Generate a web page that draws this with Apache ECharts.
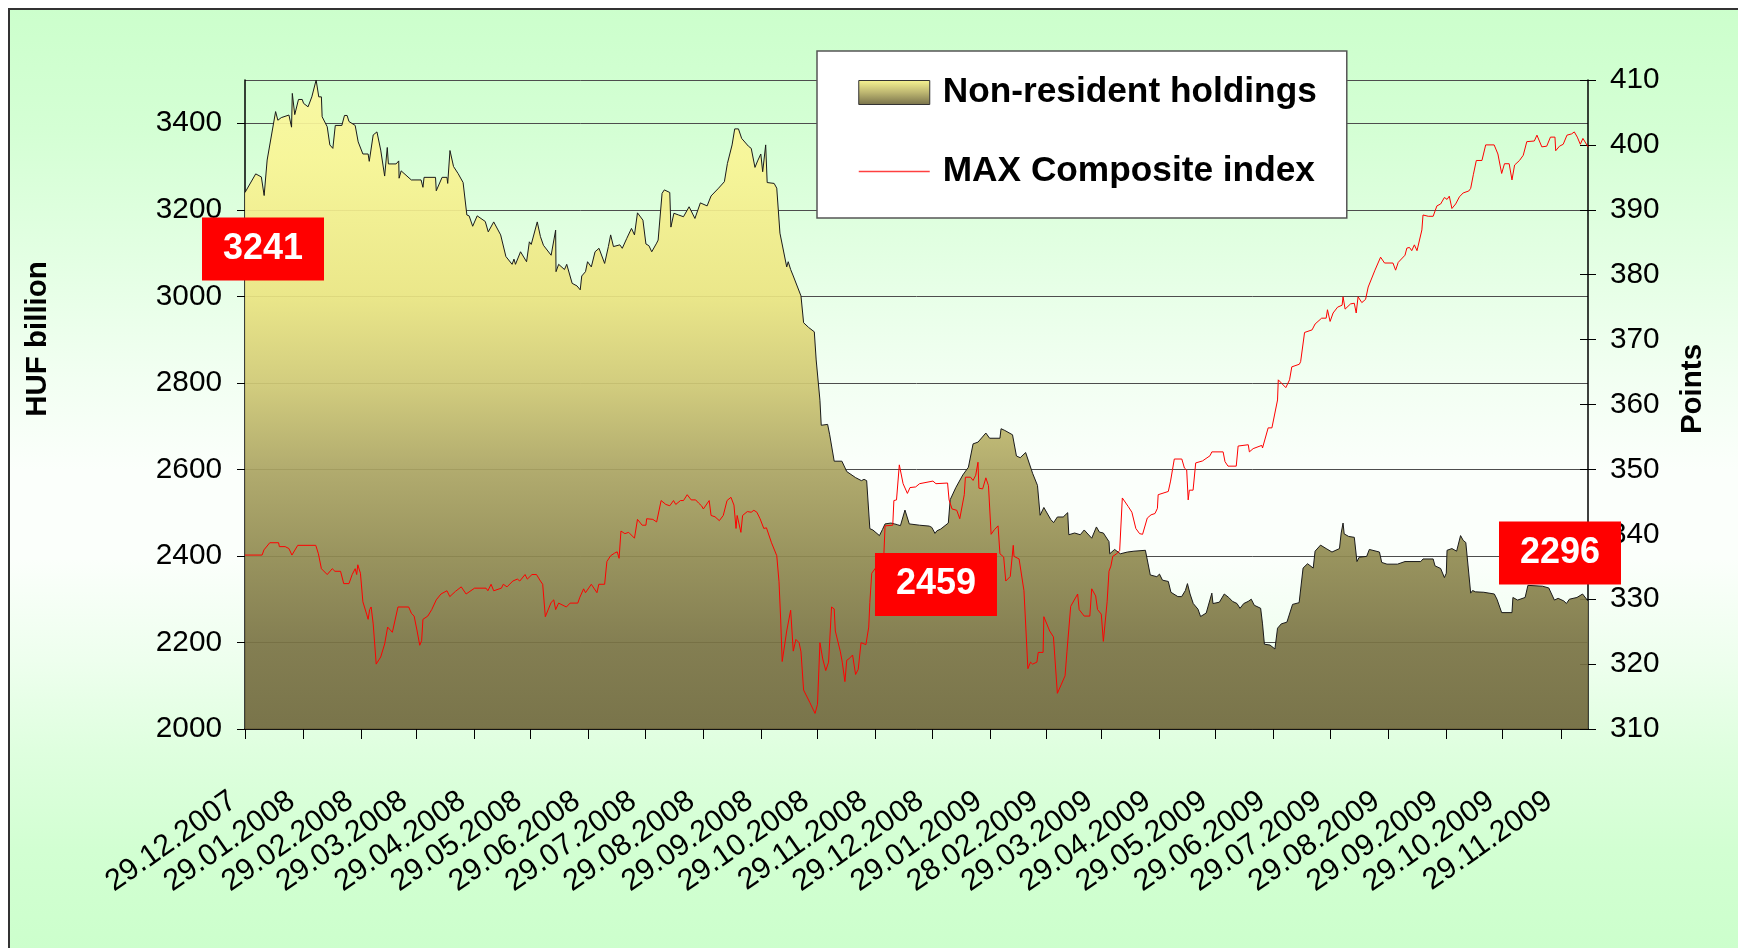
<!DOCTYPE html>
<html>
<head>
<meta charset="utf-8">
<script src="https://cdn.jsdelivr.net/npm/echarts@6/dist/echarts.min.js"></script>
<style>
  html, body { margin: 0; padding: 0; background: #fff; }
  #chart { width: 1738px; height: 948px; }
</style>
</head>
<body>
<div id="chart"></div>
<script>
// x axis counts calendar days from 29.12.2007
const tickDays = [0, 31, 62, 91, 122, 152, 183, 213, 244, 275, 305, 336, 366, 397, 427, 456, 487, 517, 548, 578, 609, 640, 670, 701]
const tickLabels = ['29.12.2007', '29.01.2008', '29.02.2008', '29.03.2008', '29.04.2008', '29.05.2008', '29.06.2008',
  '29.07.2008', '29.08.2008', '29.09.2008', '29.10.2008', '29.11.2008', '29.12.2008', '29.01.2009', '28.02.2009',
  '29.03.2009', '29.04.2009', '29.05.2009', '29.06.2009', '29.07.2009', '29.08.2009', '29.09.2009', '29.10.2009', '29.11.2009']
const lastDay = 715.5

// [day, HUF billion]
const holdings = [
  [0, 3240], [5.7, 3283], [8.7, 3276], [10.2, 3233], [11.8, 3315], [16.3, 3427], [17.5, 3407], [19.3, 3413], [23.4, 3419],
  [24.8, 3391], [25.2, 3469], [26.5, 3420], [28.5, 3455], [30.5, 3455], [31.2, 3446], [33.6, 3438], [35.6, 3461], [37.9, 3500],
  [39.3, 3461], [40.7, 3461], [41.1, 3415], [43.8, 3392], [45.2, 3350], [46.8, 3342], [48.1, 3395], [51.6, 3395], [53, 3418],
  [54.4, 3418], [55.4, 3404], [58.7, 3395], [60.3, 3357], [62.8, 3329], [65.6, 3329], [66.2, 3312], [68.3, 3373], [70.3, 3380],
  [72.3, 3338], [74.4, 3278], [75.8, 3344], [76.4, 3306], [80.5, 3306], [81.9, 3313], [82.1, 3273], [83.2, 3290], [88.6, 3269],
  [93.8, 3269], [94.8, 3252], [95.4, 3275], [101.5, 3275], [101.9, 3244], [105, 3275], [107.6, 3275], [108, 3261], [109.2, 3337],
  [111.1, 3300], [113.5, 3284], [116.2, 3263], [118.2, 3188], [119.4, 3186], [121.3, 3162], [122.3, 3162], [123.7, 3186],
  [128, 3173], [129.6, 3149], [132.5, 3172], [136.2, 3142], [139, 3092], [142.3, 3074], [143.3, 3086], [144.1, 3074],
  [146.8, 3103], [150, 3080], [151.5, 3126], [152.5, 3120], [155.7, 3172], [157.4, 3138], [159, 3118], [163.1, 3095],
  [165.5, 3153], [165.7, 3057], [167.1, 3074], [170.2, 3062], [171.4, 3074], [174.3, 3030], [176.9, 3024], [178.6, 3015],
  [179.4, 3047], [181.4, 3057], [182.5, 3080], [184.5, 3068], [186.5, 3103], [188.6, 3111], [191.6, 3076], [193.6, 3115],
  [194.8, 3142], [196.3, 3115], [199.7, 3119], [201, 3111], [203.4, 3134], [205.9, 3157], [207.5, 3142], [209.1, 3193],
  [212, 3176], [213.6, 3121], [215.2, 3117], [216.7, 3103], [219.3, 3123], [220.1, 3130], [222.2, 3238], [223.4, 3246],
  [226.3, 3240], [226.9, 3160], [228.5, 3192], [231, 3188], [233.6, 3184], [236.6, 3207], [239.7, 3180], [242.6, 3216],
  [246.2, 3209], [248.3, 3232], [252.3, 3250], [255.4, 3265], [257, 3307], [259.5, 3350], [260.9, 3387], [262.9, 3387],
  [264.6, 3365], [268.2, 3347], [269.7, 3342], [271.7, 3298], [273.1, 3313], [274.8, 3329], [275.8, 3288], [277.4, 3350],
  [278.2, 3263], [281.9, 3261], [283.3, 3250], [285, 3146], [288.6, 3068], [289.4, 3080], [290.7, 3062], [292.1, 3047],
  [296.2, 3001], [297.6, 2939], [300.3, 2928], [303.3, 2918], [304.3, 2853], [306.3, 2760], [307, 2702], [310.4, 2704],
  [311.5, 2680], [313.9, 2619], [318, 2619], [320.6, 2595], [325.3, 2581], [328.4, 2574], [329.8, 2577], [331.2, 2574],
  [332.9, 2463], [334.5, 2460], [335.5, 2463], [338, 2447], [339.6, 2461], [341, 2474], [344.1, 2476], [346.1, 2474],
  [347.7, 2472], [349.2, 2470], [351.6, 2506], [353.9, 2474], [359.4, 2471], [364.5, 2469], [365.9, 2466], [367.6, 2452],
  [368.6, 2458], [370.6, 2462], [374.7, 2476], [375.7, 2530], [378.7, 2558], [382.4, 2587], [385.4, 2605], [387.9, 2659],
  [390.5, 2663], [394.7, 2684], [396.7, 2672], [402.2, 2672], [402.8, 2694], [404.8, 2690], [408.9, 2680], [411, 2631],
  [413, 2627], [415.9, 2639], [419.6, 2591], [422.2, 2563], [423.6, 2494], [425.6, 2512], [429.3, 2484], [430.8, 2477],
  [432.8, 2490], [435.9, 2490], [438.3, 2500], [438.9, 2449], [442, 2453], [445, 2449], [447.1, 2460], [451.1, 2441],
  [453.6, 2467], [455.2, 2455], [457.3, 2453], [460.3, 2433], [460.7, 2405], [463.3, 2415], [466.4, 2405], [470.1, 2409],
  [473.6, 2411], [479.7, 2413], [480.7, 2409], [482.3, 2356], [485.8, 2352], [487.2, 2358], [488.8, 2344], [491.9, 2341],
  [493.3, 2316], [497, 2306], [499, 2306], [501, 2320], [502.1, 2336], [503.5, 2312], [505.2, 2290], [507.7, 2277],
  [509.1, 2260], [512.1, 2268], [515.1, 2314], [515.7, 2290], [519.1, 2293], [521.7, 2312], [524.1, 2304], [526.1, 2295],
  [528.5, 2290], [530.1, 2279], [532.1, 2290], [534.5, 2295], [536.1, 2300], [537.7, 2286], [541.1, 2279], [542.1, 2243],
  [543.1, 2196], [546.1, 2194], [548.7, 2185], [550.1, 2233], [552.1, 2243], [555.1, 2247], [558.1, 2288], [561.6, 2292],
  [563.7, 2372], [566.1, 2382], [569.1, 2372], [570.1, 2411], [573, 2425], [576, 2417], [579.1, 2409], [583.1, 2417],
  [584, 2453], [585, 2476], [585.6, 2451], [588, 2445], [591, 2443], [592.4, 2387], [593.6, 2397], [597.6, 2399],
  [599, 2415], [604.4, 2409], [605.6, 2385], [608.4, 2381], [614, 2381], [618, 2387], [626.4, 2387], [627.6, 2393],
  [633, 2393], [634, 2377], [637, 2371], [639, 2350], [640, 2360], [640.4, 2413], [643, 2417], [645.5, 2411], [647.6, 2447],
  [649, 2436], [650.4, 2431], [653, 2314], [654, 2320], [655.6, 2317], [660, 2316], [665.6, 2312], [667, 2300],
  [669.5, 2269], [675, 2269], [675.5, 2304], [678, 2298], [682, 2304], [683.5, 2332], [691.3, 2330], [694.6, 2326],
  [697.6, 2298], [699.6, 2302], [702.6, 2296], [704, 2290], [705.6, 2300], [709.6, 2304], [712.6, 2312], [715.5, 2296]
]

// [day, points]
const maxIndex = [
  [0, 336.8], [9.1, 336.8], [10.1, 337.6], [13.2, 338.7], [17.9, 338.7], [18.3, 338.1], [21.4, 338.1], [23.4, 337.8],
  [25, 336.8], [28.1, 338.3], [37.7, 338.3], [39.1, 337], [40.7, 334.7], [43.8, 333.8], [46.5, 334.7], [47.9, 334.3],
  [50.9, 334.3], [52.6, 332.4], [55.4, 332.4], [57.1, 333.8], [58.7, 334.7], [59.5, 333.8], [60.1, 335.3], [61.5, 334],
  [62.8, 329.6], [64.8, 327.7], [65.6, 326.9], [66.4, 328.4], [67.2, 328.8], [68.3, 326.2], [69.9, 320], [72.3, 321.1],
  [74.4, 323.1], [76, 325.7], [78.5, 324.9], [81.5, 328.8], [87.2, 328.8], [88.7, 327.8], [90.1, 327.4], [91.7, 325.1],
  [93.1, 322.9], [94.1, 323.6], [94.8, 326.9], [97.4, 327.4], [99.5, 328.4], [101.9, 329.9], [104.4, 330.8], [107.6, 331.3],
  [109.1, 330.4], [112.1, 331.2], [115.2, 331.9], [117.8, 330.8], [122.3, 331.7], [128.4, 331.7], [129.4, 331.3],
  [131.1, 332.3], [132.5, 331.3], [136.6, 331.7], [137.6, 332.3], [139.6, 331.9], [142.7, 332.8], [145.1, 333.1],
  [146.4, 332.8], [149.2, 333.8], [150.4, 333.1], [152.9, 333.8], [155.3, 333.8], [157.4, 332.8], [158.6, 332.3],
  [160, 327.3], [163.1, 329.5], [164.5, 329.9], [165.5, 328.4], [167.1, 329.4], [171.2, 328.8], [173.2, 329.4],
  [177.3, 329.4], [178.4, 330.3], [180.4, 331.6], [181.4, 331], [184.5, 332.3], [187.5, 331], [188.5, 332.3],
  [191.6, 332.3], [192.8, 335.8], [194.8, 336.7], [196.9, 337.1], [198.3, 337.3], [199.3, 336.3], [200.3, 340.5],
  [202.4, 340.1], [204.4, 340.3], [207.5, 339.4], [209.1, 342.3], [211.6, 341.4], [213.6, 341.4], [214, 342.4],
  [217.3, 342.3], [219.3, 341.9], [221.7, 345.2], [224.2, 344.6], [226.3, 344.4], [228.3, 345.2], [229.5, 344.6],
  [232, 345.2], [233.6, 345.2], [235.6, 346.1], [237.7, 345.3], [240.1, 345.3], [241.7, 344.8], [243.2, 344.4],
  [244.2, 343.9], [247.3, 345.2], [248.3, 342.9], [250.4, 342.7], [252.7, 342.1], [254.8, 342.9], [256.8, 345.2],
  [258.9, 345.7], [260.5, 344.5], [261.6, 340.9], [262.2, 342.9], [263, 343], [264.2, 340.3], [265.1, 342.9],
  [267.6, 343.5], [269.7, 343.4], [271.1, 343.7], [272.7, 343.4], [274.4, 342.4], [276.4, 340.9], [277.8, 341],
  [280.5, 338.7], [283.3, 336.7], [284.5, 332.7], [285.4, 326.8], [286.2, 320.4], [288.6, 325.1], [290.7, 328.3],
  [292.1, 322], [293.5, 323.8], [295.2, 323.3], [296.2, 321.9], [297.6, 316], [300.9, 314.1], [303.7, 312.4],
  [305, 313.8], [306.3, 323.3], [307.8, 320.8], [309.4, 319], [310.9, 320.3], [312.5, 328.8], [313.9, 328.5],
  [314.5, 325.1], [317.2, 321.9], [318.2, 320.3], [319.6, 317.3], [320.6, 320.6], [321.7, 320.8], [323.7, 321.4],
  [325.3, 318.4], [326.7, 319.2], [328.2, 323.3], [330.8, 323], [332.3, 325.7], [332.9, 329.5], [333.9, 334],
  [335.9, 334.8], [338.4, 336], [340.4, 337.1], [341, 341.3], [345.1, 341.4], [345.7, 345.2], [347.1, 345.3],
  [348.6, 350.7], [350.6, 347.8], [352.9, 346.3], [354.3, 347.2], [357.3, 347.3], [359.4, 347.8], [366.5, 348.2],
  [368.1, 347.8], [374.3, 347.9], [375.1, 345.3], [376.7, 343.9], [379.2, 343.7], [380.8, 342.4], [383.2, 346.1],
  [383.8, 348.8], [386.5, 348.8], [387.9, 348.3], [389.3, 349.1], [390.5, 351.1], [391, 347.1], [393, 347],
  [393.4, 346.7], [394.7, 348.7], [396.1, 347.5], [397.5, 340], [399.2, 340.7], [401.2, 341.3], [402.2, 337],
  [404.2, 336.5], [405.3, 332.8], [407.7, 333.5], [409.3, 338.3], [409.7, 336.6], [412.4, 336.2], [415, 331.3],
  [417.1, 319.3], [418.5, 320.3], [419.6, 320], [421.9, 320.3], [422.6, 321.8], [425.2, 321.8], [425.6, 327.3],
  [428.7, 325.1], [430.7, 324.2], [432.8, 315.5], [434.8, 316.8], [436.9, 318.2], [437.9, 321.9], [439.9, 328.9],
  [443.6, 330.8], [444.4, 328.4], [447.1, 327.4], [450.1, 327.4], [451.1, 331.6], [453.2, 330.5], [454.2, 328.4],
  [456.2, 327.7], [457.3, 323.5], [459.3, 329.6], [460.3, 334.3], [461.3, 335.1], [462.3, 336.6], [464.4, 337],
  [466, 337.5], [467.4, 345.6], [470.5, 344.3], [472.5, 343.4], [474.6, 340.9], [476.6, 340.1], [478.2, 340],
  [480.7, 342.5], [482.7, 343], [484.8, 343.2], [486.1, 344], [486.5, 346.1], [491.9, 346.6], [493.1, 348.2],
  [495.1, 351.6], [499.1, 351.6], [500.5, 350.2], [501.7, 349.9], [502.5, 345.3], [503.1, 346.8], [505.1, 346.8],
  [506.5, 351], [510.1, 351.3], [514.1, 352.1], [515.1, 352.7], [521.1, 352.7], [522.1, 351.2], [523.7, 350.5],
  [528.1, 350.5], [529.1, 353.6], [534.5, 353.8], [535.1, 352.7], [537.1, 353.2], [541.7, 353.7], [542.1, 353.3],
  [545.1, 356.4], [547.1, 356.4], [550.1, 360.7], [550.5, 363.8], [554.5, 362.6], [556.5, 363.8], [557.7, 365.8],
  [561.7, 366.2], [562.4, 366.6], [564.5, 371.1], [568.5, 371.5], [570.1, 372.4], [573.6, 373.3], [576, 373.3],
  [576.7, 374.6], [578.1, 372.8], [579.7, 374.1], [582.1, 375], [584.5, 375.3], [585, 376.6], [586.1, 374.7],
  [589, 375.5], [591, 375.6], [592, 374.1], [593, 376.6], [595, 375.7], [597, 376.2], [598.4, 378.1], [602, 380.7],
  [605, 382.7], [607.1, 381.8], [611.6, 381.8], [613, 380.7], [614.4, 381.9], [618, 383], [619, 384.1], [620.4, 384.2],
  [621.6, 383.7], [623, 384.6], [624.4, 383.7], [627, 386.9], [627.6, 389.2], [630.4, 389], [633, 389], [635, 390.6],
  [637, 390.9], [639, 391.9], [640.4, 391.6], [641.6, 392.1], [643, 390.2], [645, 390.9], [647, 392], [649, 392.6],
  [652, 392.9], [653, 393.3], [654.4, 395.4], [656, 397.6], [659, 397.6], [661, 400], [665.5, 400], [667.5, 398.6],
  [669.5, 395.6], [671, 397.1], [673.5, 397.1], [675, 394.6], [676.4, 396.9], [679, 397.6], [681, 398.4], [682.9, 400.5],
  [686.9, 400.6], [688.3, 401.5], [690.9, 399.7], [693.5, 399.8], [695.5, 401.2], [697.9, 401.2], [698.3, 399.1],
  [700.3, 399.8], [702.3, 400.1], [704.3, 401.5], [706.8, 401.7], [708.2, 402], [709.8, 401.2], [711.4, 400.1],
  [712.8, 401], [715.5, 399.7]
]

// red value boxes
const noteDays = [0, 366, 715.5]
const noteValues = [3241, 2459, 2296]
const noteOffsets = [[18, 57], [4, 54], [-28, -48]]

// the chart uses a narrow font; fall back to a smaller regular one if it is missing
function hasFont(name) {
  const ctx = document.createElement('canvas').getContext('2d')
  ctx.font = '40px monospace'
  const a = ctx.measureText('Non-resident 3400').width
  ctx.font = "40px '" + name + "', monospace"
  return ctx.measureText('Non-resident 3400').width !== a
}
const narrow = hasFont('Liberation Sans Narrow')
const font = narrow ? "'Liberation Sans Narrow', 'Liberation Sans', sans-serif" : "'Liberation Sans', sans-serif"
const k = narrow ? 1 : 0.82
const kt = narrow ? 1 : 0.85

const areaFill = new echarts.graphic.LinearGradient(0, 0, 0, 1, [
  { offset: 0, color: '#fbf8a0' },
  { offset: 0.12, color: '#f9f595' },
  { offset: 0.33, color: '#ebe582' },
  { offset: 0.47, color: '#cfc874' },
  { offset: 0.6, color: '#aba462' },
  { offset: 0.73, color: '#918b51' },
  { offset: 0.87, color: '#7a7344' },
  { offset: 1, color: '#70683d' }
])
const swatchFill = new echarts.graphic.LinearGradient(0, 0, 0, 1, [
  { offset: 0, color: '#f8f592' },
  { offset: 0.5, color: '#bdb671' },
  { offset: 1, color: '#77714a' }
])
const bgFill = new echarts.graphic.LinearGradient(0, 0, 0, 1, [
  { offset: 0, color: '#ccffcc' },
  { offset: 0.12, color: '#d4ffd4' },
  { offset: 0.24, color: '#e2ffe2' },
  { offset: 0.37, color: '#f2fff2' },
  { offset: 0.46, color: '#fbfffb' },
  { offset: 0.55, color: '#fbfffb' },
  { offset: 0.65, color: '#eeffee' },
  { offset: 0.74, color: '#dfffdf' },
  { offset: 0.84, color: '#d2ffd2' },
  { offset: 0.94, color: '#ccffcc' },
  { offset: 1, color: '#ccffcc' }
])

const chart = echarts.init(document.getElementById('chart'))
const option = {
  animation: false,
  graphic: [{
    type: 'rect',
    z: -100,
    silent: true,
    shape: { x: 9, y: 9, width: 1800, height: 1000 },
    style: { fill: bgFill, stroke: '#333', lineWidth: 2 }
  }],
  grid: { left: 245, right: 150, top: 80, bottom: 219, containLabel: false, outerBoundsMode: 'none' },
  legend: {
    orient: 'vertical',
    left: 817,
    top: 51,
    padding: [20, 30, 25, 41],
    itemGap: 36,
    itemWidth: 71,
    itemHeight: 24,
    backgroundColor: '#fff',
    borderColor: '#555',
    borderWidth: 1.5,
    borderRadius: 0,
    selectedMode: false,
    textStyle: { fontFamily: font, fontWeight: 'bold', fontSize: 43 * k, lineHeight: 43, color: '#000', padding: [0, 0, 0, 8] },
    data: [
      { name: 'Non-resident holdings', icon: 'rect', itemStyle: { color: swatchFill, borderColor: '#333', borderWidth: 1 } },
      { name: 'MAX Composite index', itemStyle: { color: 'rgba(0,0,0,0)', borderWidth: 0 }, lineStyle: { color: '#ff4040', width: 1.5 } }
    ]
  },
  xAxis: {
    type: 'value',
    min: 0,
    max: lastDay,
    axisLine: { show: true, onZero: false, lineStyle: { color: '#000', width: 1.5 } },
    axisTick: { show: true, customValues: tickDays, length: 10, lineStyle: { color: '#000', width: 1 } },
    axisLabel: {
      customValues: tickDays,
      rotate: 35,
      margin: 61,
      padding: [0, 14, 0, 0],
      hideOverlap: false,
      fontFamily: font,
      fontSize: 37 * k,
      color: '#000',
      formatter: v => tickLabels[tickDays.indexOf(v)] || ''
    },
    splitLine: { show: false }
  },
  yAxis: [{
    type: 'value',
    position: 'left',
    min: 2000,
    max: 3500,
    interval: 200,
    name: 'HUF billion',
    nameLocation: 'middle',
    nameRotate: 90,
    nameGap: 192,
    nameMoveOverlap: false,
    nameTextStyle: { fontFamily: font, fontWeight: 'bold', fontSize: 36 * k, color: '#000', padding: [0, 0, 0, 131] },
    axisLine: { show: true, lineStyle: { color: '#000', width: 1.5 } },
    axisTick: { show: true, length: 8, lineStyle: { color: '#000' } },
    axisLabel: { margin: 23, showMaxLabel: false, fontFamily: font, fontSize: 35 * kt, color: '#000', formatter: v => String(v) },
    splitLine: { show: true, lineStyle: { color: '#4d4d4d', width: 1 } }
  }, {
    type: 'value',
    position: 'right',
    min: 310,
    max: 410,
    interval: 10,
    name: 'Points',
    nameLocation: 'middle',
    nameRotate: 90,
    nameGap: 90,
    nameMoveOverlap: false,
    nameTextStyle: { fontFamily: font, fontWeight: 'bold', fontSize: 36 * k, color: '#000', padding: [0, 0, 0, 31] },
    axisLine: { show: true, lineStyle: { color: '#000', width: 1.5 } },
    axisTick: { show: true, length: 8, lineStyle: { color: '#000' } },
    axisLabel: { margin: 22, fontFamily: font, fontSize: 35 * kt, color: '#000', formatter: v => String(v) },
    splitLine: { show: false }
  }, {
    // inner half of the crossing ticks on the right axis
    type: 'value',
    position: 'right',
    min: 310,
    max: 410,
    interval: 10,
    axisLine: { show: false },
    axisTick: { show: true, inside: true, length: 8, lineStyle: { color: '#000' } },
    axisLabel: { show: false },
    splitLine: { show: false }
  }],
  series: [{
    name: 'Non-resident holdings',
    type: 'line',
    yAxisIndex: 0,
    data: holdings,
    symbol: 'none',
    lineStyle: { color: '#1a1a1a', width: 1 },
    itemStyle: { color: '#8a8450' },
    areaStyle: { color: areaFill, opacity: 0.92 },
    emphasis: { disabled: true },
    z: 2,
    markPoint: {
      symbol: 'rect',
      symbolSize: [122, 63],
      itemStyle: { color: '#ff0000' },
      label: {
        show: true,
        position: 'inside',
        formatter: '{c}',
        color: '#fff',
        fontFamily: "'Liberation Sans', sans-serif",
        fontWeight: 'bold',
        fontSize: 36
      },
      data: noteDays.map((d, i) => ({ coord: [d, noteValues[i]], value: noteValues[i], symbolOffset: noteOffsets[i] }))
    }
  }, {
    name: 'MAX Composite index',
    type: 'line',
    yAxisIndex: 1,
    data: maxIndex,
    symbol: 'none',
    lineStyle: { color: '#ff0000', width: 1 },
    itemStyle: { color: '#ff0000' },
    emphasis: { disabled: true },
    z: 3
  }]
}
chart.setOption(option)
</script>
</body>
</html>
